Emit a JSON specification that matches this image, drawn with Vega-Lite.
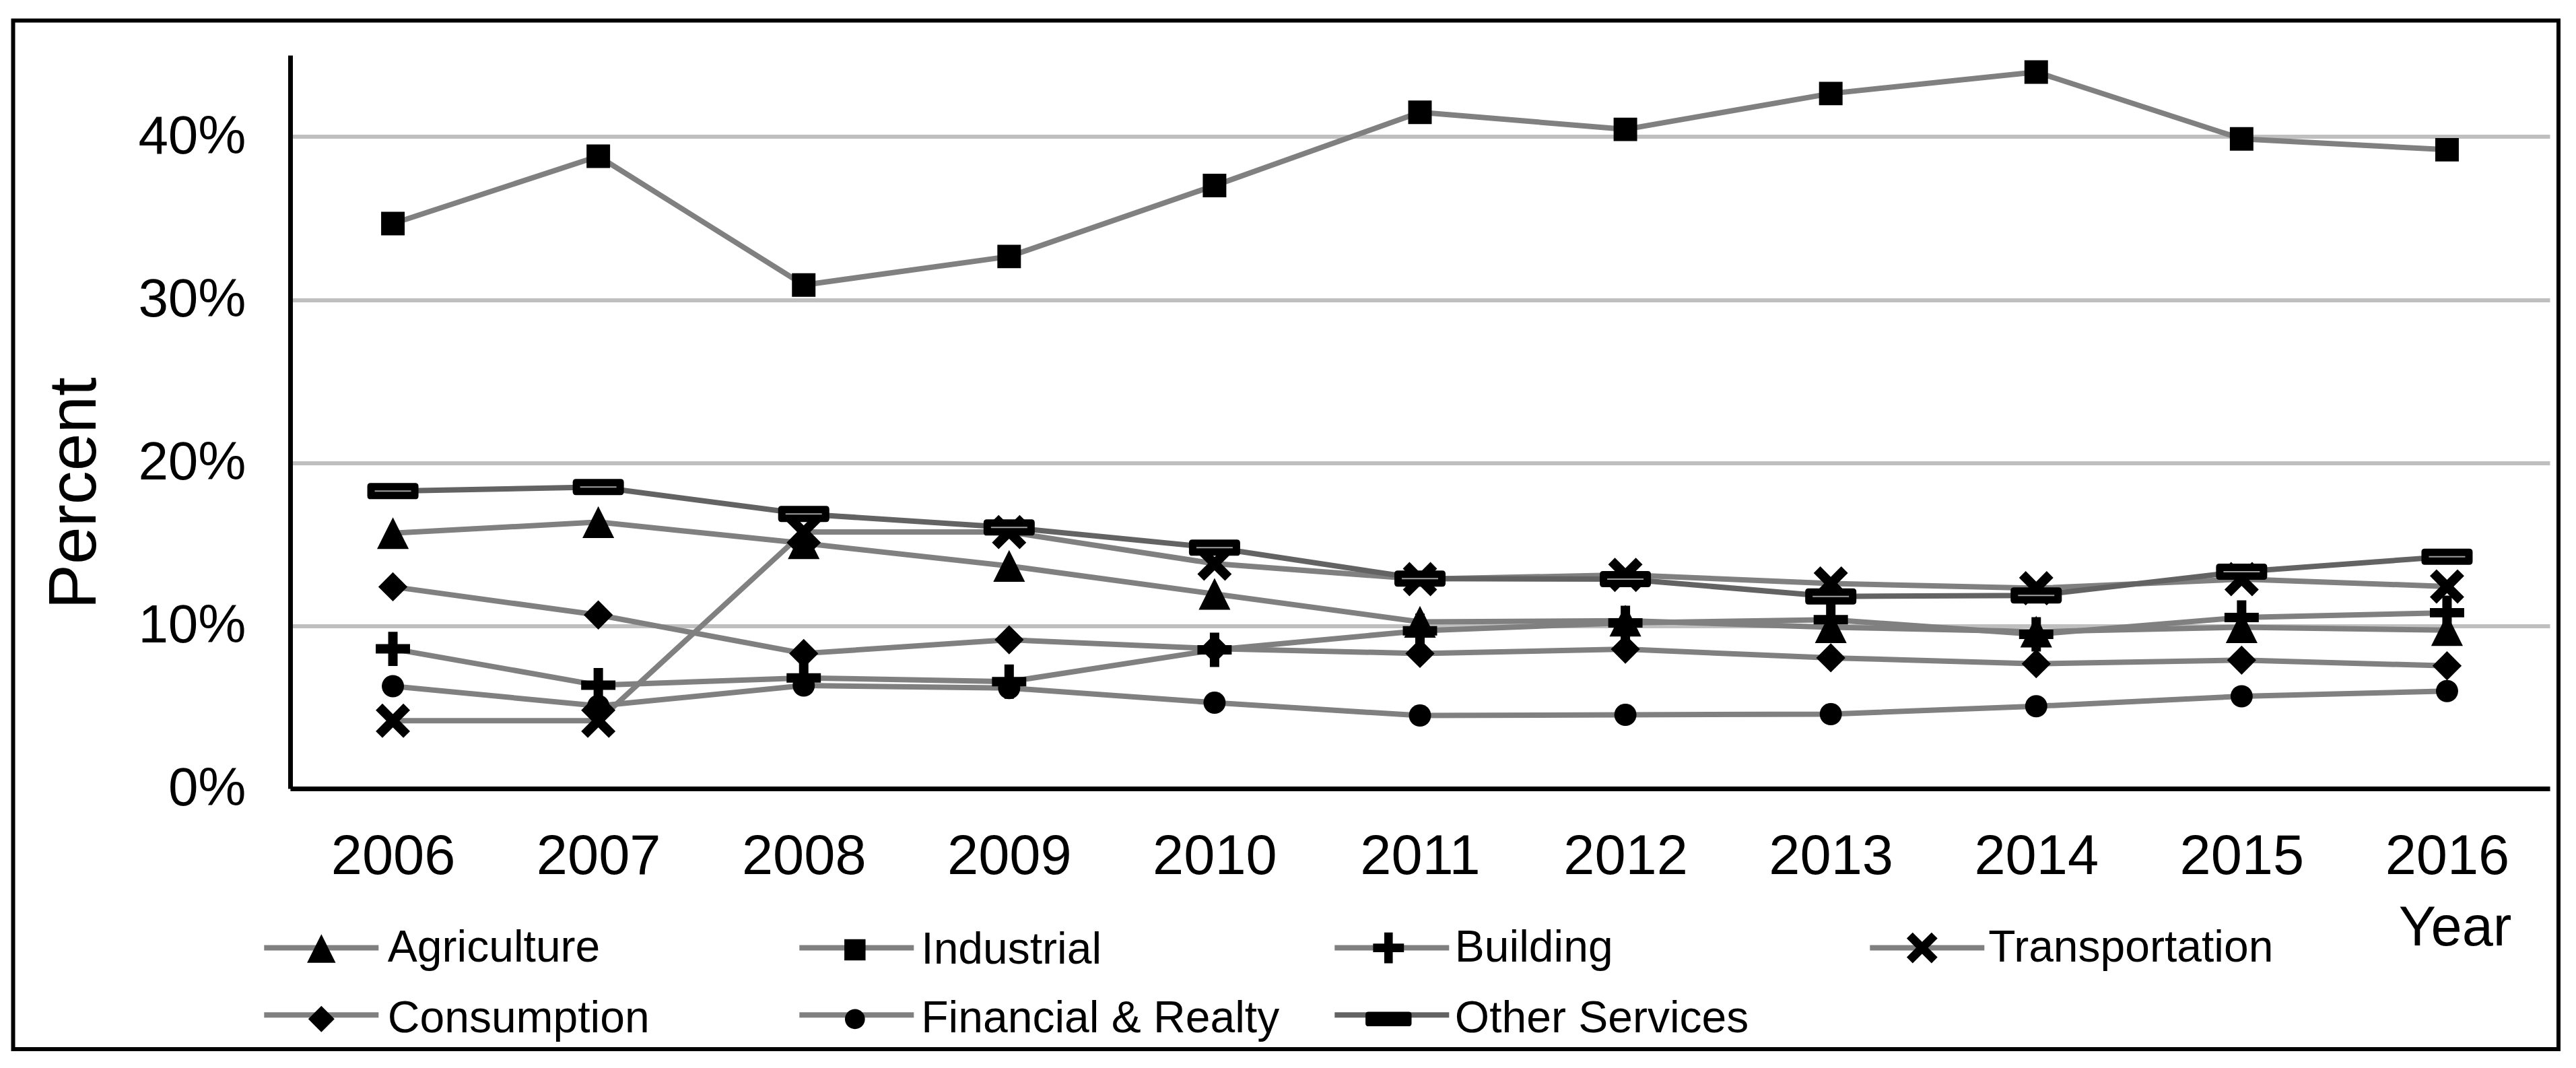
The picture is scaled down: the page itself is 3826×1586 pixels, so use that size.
{
  "$schema": "https://vega.github.io/schema/vega-lite/v6.json",
  "width": 3780.5,
  "height": 1527.5,
  "autosize": {"type": "none"},
  "padding": {"left": 19.5, "top": 30.5, "right": 26, "bottom": 28},
  "background": "white",
  "config": {"font": "Liberation Sans", "view": {"stroke": "black", "strokeWidth": 6}},
  "data": {"values": [
    {"year": "2006", "series": "Agriculture", "share": 0.1567},
    {"year": "2007", "series": "Agriculture", "share": 0.1635},
    {"year": "2008", "series": "Agriculture", "share": 0.1505},
    {"year": "2009", "series": "Agriculture", "share": 0.1366},
    {"year": "2010", "series": "Agriculture", "share": 0.1194},
    {"year": "2011", "series": "Agriculture", "share": 0.1023},
    {"year": "2012", "series": "Agriculture", "share": 0.1030},
    {"year": "2013", "series": "Agriculture", "share": 0.0990},
    {"year": "2014", "series": "Agriculture", "share": 0.0963},
    {"year": "2015", "series": "Agriculture", "share": 0.0990},
    {"year": "2016", "series": "Agriculture", "share": 0.0972},
    {"year": "2006", "series": "Industrial", "share": 0.3467},
    {"year": "2007", "series": "Industrial", "share": 0.3880},
    {"year": "2008", "series": "Industrial", "share": 0.3090},
    {"year": "2009", "series": "Industrial", "share": 0.3265},
    {"year": "2010", "series": "Industrial", "share": 0.3700},
    {"year": "2011", "series": "Industrial", "share": 0.4150},
    {"year": "2012", "series": "Industrial", "share": 0.4045},
    {"year": "2013", "series": "Industrial", "share": 0.4265},
    {"year": "2014", "series": "Industrial", "share": 0.4397},
    {"year": "2015", "series": "Industrial", "share": 0.3987},
    {"year": "2016", "series": "Industrial", "share": 0.3920},
    {"year": "2006", "series": "Building", "share": 0.0857},
    {"year": "2007", "series": "Building", "share": 0.0634},
    {"year": "2008", "series": "Building", "share": 0.0679},
    {"year": "2009", "series": "Building", "share": 0.0656},
    {"year": "2010", "series": "Building", "share": 0.0851},
    {"year": "2011", "series": "Building", "share": 0.0968},
    {"year": "2012", "series": "Building", "share": 0.1017},
    {"year": "2013", "series": "Building", "share": 0.1036},
    {"year": "2014", "series": "Building", "share": 0.0946},
    {"year": "2015", "series": "Building", "share": 0.1050},
    {"year": "2016", "series": "Building", "share": 0.1079},
    {"year": "2006", "series": "Transportation", "share": 0.0416},
    {"year": "2007", "series": "Transportation", "share": 0.0416},
    {"year": "2008", "series": "Transportation", "share": 0.1574},
    {"year": "2009", "series": "Transportation", "share": 0.1574},
    {"year": "2010", "series": "Transportation", "share": 0.1380},
    {"year": "2011", "series": "Transportation", "share": 0.1285},
    {"year": "2012", "series": "Transportation", "share": 0.1311},
    {"year": "2013", "series": "Transportation", "share": 0.1258},
    {"year": "2014", "series": "Transportation", "share": 0.1229},
    {"year": "2015", "series": "Transportation", "share": 0.1285},
    {"year": "2016", "series": "Transportation", "share": 0.1240},
    {"year": "2006", "series": "Consumption", "share": 0.1238},
    {"year": "2007", "series": "Consumption", "share": 0.1065},
    {"year": "2008", "series": "Consumption", "share": 0.0829},
    {"year": "2009", "series": "Consumption", "share": 0.0913},
    {"year": "2010", "series": "Consumption", "share": 0.0858},
    {"year": "2011", "series": "Consumption", "share": 0.0829},
    {"year": "2012", "series": "Consumption", "share": 0.0855},
    {"year": "2013", "series": "Consumption", "share": 0.0802},
    {"year": "2014", "series": "Consumption", "share": 0.0766},
    {"year": "2015", "series": "Consumption", "share": 0.0788},
    {"year": "2016", "series": "Consumption", "share": 0.0753},
    {"year": "2006", "series": "Financial & Realty", "share": 0.0628},
    {"year": "2007", "series": "Financial & Realty", "share": 0.0507},
    {"year": "2008", "series": "Financial & Realty", "share": 0.0632},
    {"year": "2009", "series": "Financial & Realty", "share": 0.0617},
    {"year": "2010", "series": "Financial & Realty", "share": 0.0527},
    {"year": "2011", "series": "Financial & Realty", "share": 0.0448},
    {"year": "2012", "series": "Financial & Realty", "share": 0.0452},
    {"year": "2013", "series": "Financial & Realty", "share": 0.0457},
    {"year": "2014", "series": "Financial & Realty", "share": 0.0505},
    {"year": "2015", "series": "Financial & Realty", "share": 0.0566},
    {"year": "2016", "series": "Financial & Realty", "share": 0.0598},
    {"year": "2006", "series": "Other Services", "share": 0.1825},
    {"year": "2007", "series": "Other Services", "share": 0.1850},
    {"year": "2008", "series": "Other Services", "share": 0.1685},
    {"year": "2009", "series": "Other Services", "share": 0.1602},
    {"year": "2010", "series": "Other Services", "share": 0.1478},
    {"year": "2011", "series": "Other Services", "share": 0.1288},
    {"year": "2012", "series": "Other Services", "share": 0.1285},
    {"year": "2013", "series": "Other Services", "share": 0.1179},
    {"year": "2014", "series": "Other Services", "share": 0.1185},
    {"year": "2015", "series": "Other Services", "share": 0.1331},
    {"year": "2016", "series": "Other Services", "share": 0.1423}
  ]},
  "encoding": {
    "x": {
      "field": "year", "type": "ordinal",
      "scale": {"type": "point", "range": [411.5, 3767.5], "padding": 0.5},
      "axis": {
        "orient": "bottom", "offset": -387, "zindex": 1,
        "domain": true, "domainColor": "black", "domainWidth": 7,
        "ticks": false, "grid": false,
        "labelFontSize": 83, "labelColor": "black", "labelPadding": 60, "labelAngle": 0,
        "labelLimit": 1000, "labelOverlap": false,
        "title": "Year", "titleFontSize": 83, "titleFontWeight": "normal", "titleColor": "black",
        "titleAlign": "right", "titleBaseline": "alphabetic", "titleX": 3710.5, "titleY": 232
      }
    },
    "y": {
      "field": "share", "type": "quantitative",
      "scale": {"domain": [0, 0.45], "range": [1140.5, 51.5], "nice": false, "zero": true},
      "axis": {
        "orient": "left", "offset": -411.5,
        "values": [0, 0.1, 0.2, 0.3, 0.4], "format": ".0%",
        "domain": true, "domainColor": "black", "domainWidth": 7,
        "ticks": false, "grid": true, "gridColor": "#bfbfbf", "gridWidth": 6,
        "labelFontSize": 80, "labelColor": "black", "labelPadding": 66, "labelLimit": 1000,
        "title": "Percent", "titleFontSize": 100, "titleFontWeight": "normal", "titleColor": "black",
        "titleAngle": 270, "titleAlign": "center", "titleBaseline": "alphabetic", "titleX": -290, "titleY": 701.5
      }
    }
  },
  "layer": [
    {
      "mark": {"type": "line", "strokeWidth": 8, "strokeJoin": "round"},
      "encoding": {
        "stroke": {
          "field": "series", "type": "nominal",
          "sort": ["Agriculture", "Industrial", "Building", "Transportation", "Consumption", "Financial & Realty", "Other Services"],
          "scale": {"range": ["#808080", "#808080", "#808080", "#808080", "#808080", "#808080", "#636363"]},
          "legend": {
            "orient": "none", "legendX": 419.3, "legendY": 1338.3, "zindex": 0,
            "title": null, "columns": 4, "direction": "horizontal", "gridAlign": "all", "padding": 0,
            "columnPadding": 592, "rowPadding": 28,
            "symbolType": "M-2.485,0L2.485,0", "symbolSize": 4680, "symbolStrokeWidth": 8,
            "symbolFillColor": "transparent",
            "labelExpr": "' '",
            "labelFontSize": 66, "labelColor": "black", "labelOffset": 0, "labelLimit": 2000
          }
        }
      }
    },
    {
      "mark": {"type": "point", "filled": true, "color": "black", "opacity": 1, "size": 5776, "strokeWidth": 0},
      "encoding": {
        "shape": {
          "field": "series", "type": "nominal",
          "scale": {
            "domain": ["Agriculture", "Industrial", "Building", "Transportation", "Consumption", "Financial & Realty", "Other Services"],
            "range": [
              "M0,-0.62L0.62,0.62L-0.62,0.62Z",
              "M-0.46,-0.46H0.46V0.46H-0.46Z",
              "M-0.184,-0.67H0.184V-0.184H0.67V0.184H0.184V0.67H-0.184V0.184H-0.67V-0.184H-0.184Z",
              "M0,-0.26L0.41,-0.67L0.67,-0.41L0.26,0L0.67,0.41L0.41,0.67L0,0.26L-0.41,0.67L-0.67,0.41L-0.26,0L-0.67,-0.41L-0.41,-0.67Z",
              "M0,-0.57L0.57,0L0,0.57L-0.57,0Z",
              "M-0.434,0A0.434,0.434,0,1,0,0.434,0A0.434,0.434,0,1,0,-0.434,0Z",
              "M-0.87,-0.316H0.87Q1,-0.316,1,-0.186V0.186Q1,0.316,0.87,0.316H-0.87Q-1,0.316,-1,0.186V-0.186Q-1,-0.316,-0.87,-0.316Z"
            ]
          },
          "legend": {
            "orient": "none", "legendX": 419.3, "legendY": 1338.3, "zindex": 1,
            "title": null, "columns": 4, "direction": "horizontal", "gridAlign": "all", "padding": 0,
            "columnPadding": 111.5, "rowPadding": 28,
            "symbolSize": 4680, "symbolFillColor": "black", "symbolStrokeColor": "transparent", "symbolStrokeWidth": 8,
            "labelFontSize": 66, "labelColor": "black", "labelOffset": 60, "labelLimit": 2000
          }
        }
      }
    },
    {
      "transform": [{"filter": "datum.series === 'Other Services'"}],
      "mark": {"type": "point", "shape": "M-0.71,0L0.71,0", "filled": false, "stroke": "#a0a0a0", "strokeWidth": 2, "size": 5776, "opacity": 1}
    }
  ]
}
